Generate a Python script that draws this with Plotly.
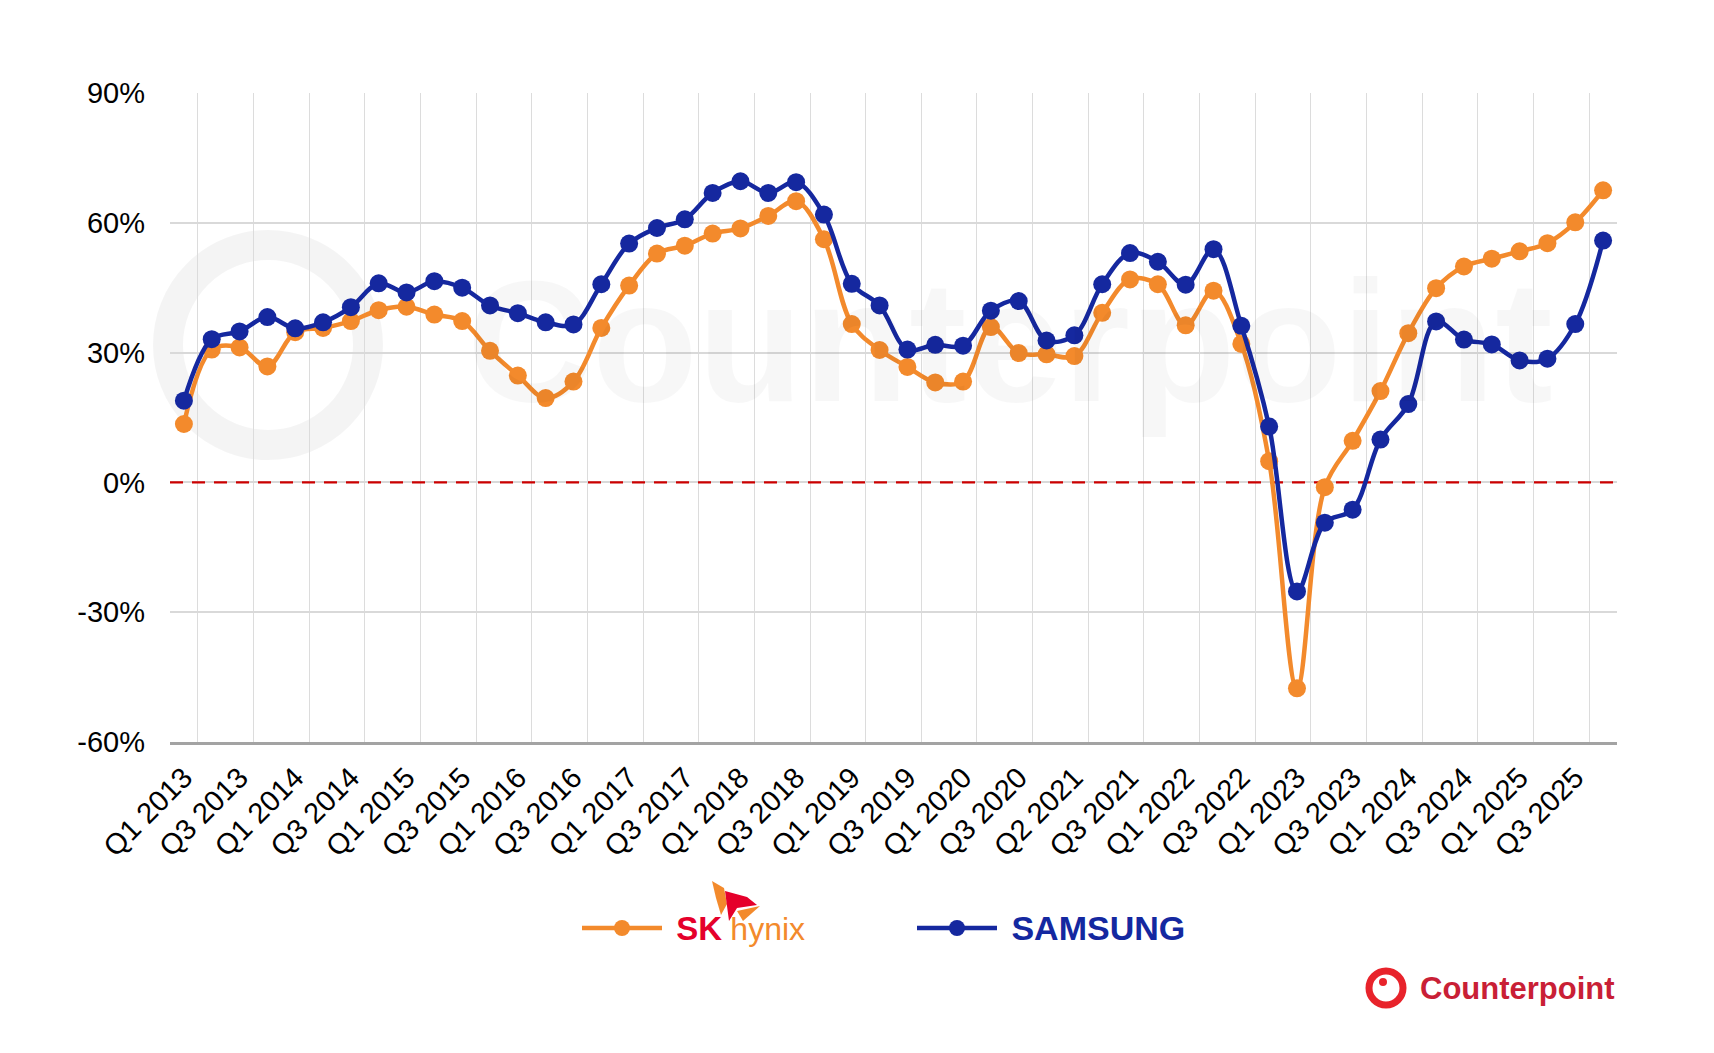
import plotly.graph_objects as go

# ---------------- data ----------------
quarters = [f"Q{q} {y}" for y in range(2013, 2026) for q in range(1, 5)]

tick_labels = [
    "Q1 2013", "Q3 2013", "Q1 2014", "Q3 2014", "Q1 2015", "Q3 2015",
    "Q1 2016", "Q3 2016", "Q1 2017", "Q3 2017", "Q1 2018", "Q3 2018",
    "Q1 2019", "Q3 2019", "Q1 2020", "Q3 2020", "Q2 2021", "Q3 2021",
    "Q1 2022", "Q3 2022", "Q1 2023", "Q3 2023", "Q1 2024", "Q3 2024",
    "Q1 2025", "Q3 2025",
]

sk_hynix = [
    13.5, 30.7, 31.2, 26.8, 34.7, 35.7, 37.3, 39.8, 40.6, 38.8,
    37.3, 30.4, 24.7, 19.5, 23.3, 35.7, 45.5, 52.9, 54.7, 57.5,
    58.7, 61.6, 65.0, 56.2, 36.6, 30.6, 26.7, 23.1, 23.3, 35.9,
    29.9, 29.6, 29.2, 39.2, 46.9, 45.8, 36.3, 44.3, 32.0, 4.9,
    -47.6, -1.1, 9.6, 21.1, 34.5, 44.9, 49.9, 51.7, 53.4, 55.3,
    60.1, 67.5,
]

samsung = [
    18.9, 33.1, 34.9, 38.2, 35.6, 37.0, 40.5, 46.0, 43.9, 46.5,
    45.0, 40.9, 39.1, 37.0, 36.5, 45.8, 55.2, 58.8, 60.8, 66.9,
    69.6, 66.9, 69.4, 61.9, 45.9, 40.9, 30.7, 31.8, 31.6, 39.7,
    41.9, 32.8, 34.0, 45.8, 53.0, 51.0, 45.7, 53.9, 36.2, 12.9,
    -25.2, -9.3, -6.3, 9.9, 18.1, 37.2, 33.0, 31.9, 28.2, 28.6,
    36.6, 55.9,
]

y_ticks = [-60, -30, 0, 30, 60, 90]

# ---------------- styling ----------------
ORANGE = "#F38A2C"
BLUE = "#15289F"
FONT = "Liberation Sans, Arial, sans-serif"

OFF = 8  # default page margin of the html body
W_FIG, H_FIG = 1714 - 2 * OFF, 1053 - 2 * OFF
ML, MT = 162, 85
PW, PH = 1447, 649
MR, MB = W_FIG - ML - PW, H_FIG - MT - PH


def px(x, y):
    """page pixel position -> paper coordinates"""
    return (x - OFF - ML) / PW, (MT + PH - (y - OFF)) / PH


x_idx = list(range(len(quarters)))
tick_pos = x_idx[::2]
grid_pos = [i + 0.5 for i in x_idx[::2]]
x_span = [x_idx[0] - 0.5, x_idx[-1] + 0.5]

fig = go.Figure()

# dashed zero reference line (under the series)
fig.add_trace(go.Scatter(
    x=x_span, y=[0, 0], mode="lines", showlegend=False, hoverinfo="skip",
    line=dict(color="#CC0000", width=2.2, dash="13px,9px"),
))

fig.add_trace(go.Scatter(
    x=x_idx, y=sk_hynix, customdata=quarters,
    name="<span style='color:#E5002B;font-weight:bold;font-size:33px'>&nbsp;SK</span>"
         " <span style='color:#F38A2C;font-size:32px'>hynix</span>",
    mode="lines+markers",
    line=dict(color=ORANGE, width=4.5, shape="spline", smoothing=1.0),
    marker=dict(color=ORANGE, size=18),
    hovertemplate="%{customdata}: %{y:.1f}%<extra>SK hynix</extra>",
))
fig.add_trace(go.Scatter(
    x=x_idx, y=samsung, customdata=quarters,
    name="<span style='color:#1428A0;font-weight:bold;font-size:34px'>&nbsp;SAMSUNG</span>",
    mode="lines+markers",
    line=dict(color=BLUE, width=4.5, shape="spline", smoothing=1.0),
    marker=dict(color=BLUE, size=18),
    hovertemplate="%{customdata}: %{y:.1f}%<extra>Samsung</extra>",
))

shapes = []
# watermark ring
cx, cy, r = 268, 345, 100
x0, y0 = px(cx - r, cy + r)
x1, y1 = px(cx + r, cy - r)
shapes.append(dict(type="circle", xref="paper", yref="paper", x0=x0, y0=y0, x1=x1, y1=y1,
                   line=dict(color="rgba(0,0,0,0.045)", width=30), layer="below"))
# Counterpoint logo icon (bottom right)
cx, cy, r = 1386, 988, 17
x0, y0 = px(cx - r, cy + r)
x1, y1 = px(cx + r, cy - r)
shapes.append(dict(type="circle", xref="paper", yref="paper", x0=x0, y0=y0, x1=x1, y1=y1,
                   line=dict(color="#E8232B", width=7)))
cx, cy, r = 1383, 982, 4
x0, y0 = px(cx - r, cy + r)
x1, y1 = px(cx + r, cy - r)
shapes.append(dict(type="circle", xref="paper", yref="paper", x0=x0, y0=y0, x1=x1, y1=y1,
                   fillcolor="#E8232B", line=dict(width=0)))


def poly(points, color):
    pts = [px(a, b) for a, b in points]
    path = "M " + " L ".join(f"{a:.5f},{b:.5f}" for a, b in pts) + " Z"
    return dict(type="path", xref="paper", yref="paper", path=path,
                fillcolor=color, line=dict(width=0))


# small SK hynix butterfly mark
shapes.append(poly([(712, 881), (724, 888), (727, 904), (721, 915), (716, 898)], "#F38A2C"))
shapes.append(poly([(725, 891), (747, 897), (757, 905), (737, 908), (729, 921)], "#E5002B"))
shapes.append(poly([(737, 911), (760, 906), (743, 921)], "#F38A2C"))

annotations = []
# watermark text
wx, wy = px(1010, 341)
annotations.append(dict(text="<b>Counterpoint</b>", xref="paper", yref="paper", x=wx, y=wy,
                        xanchor="center", yanchor="middle", showarrow=False,
                        font=dict(family=FONT, size=173, color="rgba(0,0,0,0.032)")))
# Counterpoint logo text
lx, ly = px(1617, 988)
annotations.append(dict(text="<b>Counterpoint</b>", xref="paper", yref="paper", x=lx, y=ly,
                        xanchor="right", yanchor="middle", showarrow=False,
                        font=dict(family=FONT, size=31, color="#C91F36")))

lgx, lgy = px(577, 928)

fig.update_layout(
    width=W_FIG, height=H_FIG,
    margin=dict(l=ML, r=MR, t=MT, b=MB, autoexpand=False),
    paper_bgcolor="white", plot_bgcolor="white",
    font=dict(family=FONT, size=29, color="#000000"),
    showlegend=True,
    legend=dict(orientation="h", x=lgx, xanchor="left", y=lgy, yanchor="middle",
                itemwidth=80, entrywidth=240, font=dict(size=30, family=FONT),
                bgcolor="rgba(0,0,0,0)", traceorder="normal"),
    shapes=shapes,
    annotations=annotations,
    hovermode="closest",
)

fig.update_xaxes(
    range=x_span,
    tickmode="array", tickvals=tick_pos, ticktext=tick_labels,
    tickangle=-45, ticks="", showgrid=False, zeroline=False,
    showline=True, linecolor="#A3A3A3", linewidth=3,
    ticklabelstandoff=4,
    tickfont=dict(size=29, family=FONT, color="#000000"),
    minor=dict(tickmode="array", tickvals=grid_pos, showgrid=True,
               gridcolor="#DCDCDC", gridwidth=1.2, ticks=""),
)
fig.update_yaxes(
    range=[-60, 90], tickmode="array", tickvals=y_ticks,
    ticktext=[f"{v}%" for v in y_ticks],
    showgrid=True, gridcolor="#D9D9D9", gridwidth=1.6,
    zeroline=False, showline=False, ticks="",
    ticklabelstandoff=24,
    tickfont=dict(size=29, family=FONT, color="#000000"),
)

fig.write_html("out.html")
